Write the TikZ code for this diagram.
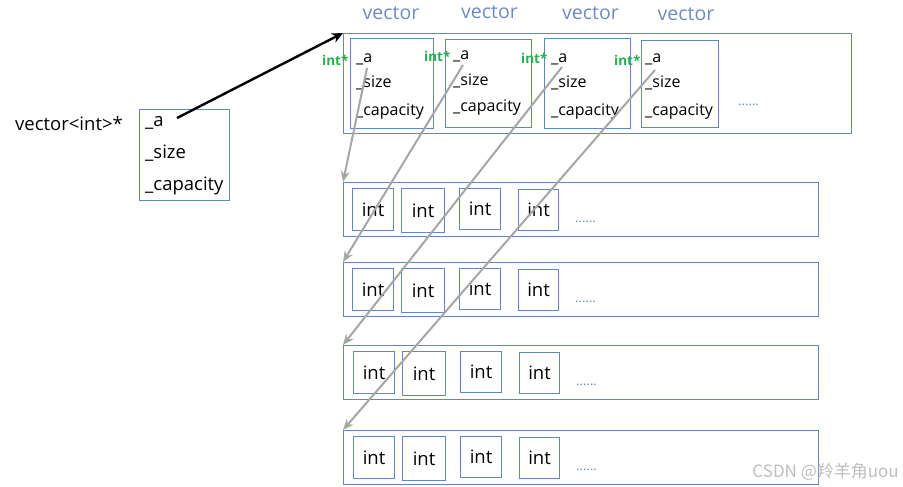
\documentclass[tikz,border=0pt]{standalone}
\usepackage{fontspec}
\setmainfont{Open Sans}
\newfontfamily\cjk{Noto Sans CJK SC}
\usetikzlibrary{arrows.meta}
\definecolor{boxblue}{RGB}{100,136,188}
\definecolor{lblblue}{RGB}{110,140,190}
\definecolor{ptrgreen}{RGB}{34,177,76}
\definecolor{arrgray}{RGB}{166,166,166}
\definecolor{wmgray}{RGB}{190,190,190}
\begin{document}
\begin{tikzpicture}[x=1pt,y=-1pt,
  bx/.style={draw=boxblue, line width=1.1pt, inner sep=0pt, anchor=north west},
  fld/.style={inner sep=0pt, anchor=base west, font=\fontsize{16}{16}\selectfont},
  lfld/.style={fld, font=\fontsize{18.5}{18}\selectfont},
  veclbl/.style={inner sep=0pt, anchor=base, text=lblblue, font=\fontsize{19.5}{20}\selectfont},
  ptr/.style={inner sep=0pt, anchor=base west, text=ptrgreen, font=\bfseries\fontsize{13.5}{14}\selectfont},
  intt/.style={font=\fontsize{18.5}{19}\selectfont},
  dots/.style={inner sep=0pt, anchor=base west, text=boxblue, font=\fontsize{13}{14}\selectfont},
  blk/.style={draw=black, line width=2.4pt, -{Stealth[length=11pt,width=10pt]}},
  gry/.style={draw=arrgray, line width=2pt, -{Stealth[length=11pt,width=9pt]}}]
\useasboundingbox (0,0) rectangle (903,487);

% outer vector block
\node[bx, minimum width=508pt, minimum height=100pt] (top) at (343,33) {};
\node[bx, minimum width=83pt, minimum height=90pt] (v1) at (350,38) {};
\node[bx, minimum width=86pt, minimum height=88pt] (v2) at (445,39) {};
\node[bx, minimum width=86pt, minimum height=90pt] (v3) at (544,38) {};
\node[bx, minimum width=77pt, minimum height=87pt] (v4) at (641,40) {};

\node[veclbl] (l1) at (391,20) {vector};
\node[veclbl] (l2) at (489.5,19) {vector};
\node[veclbl] (l3) at (590.5,20) {vector};
\node[veclbl] (l4) at (686,21) {vector};

\node[fld] (v1a) at (356,63) {\_a};
\node[fld] (v1s) at (356,88) {\_size};
\node[fld] (v1c) at (356,115) {\_capacity};
\node[fld] (v2a) at (453,60) {\_a};
\node[fld] (v2s) at (453,86) {\_size};
\node[fld] (v2c) at (453,112) {\_capacity};
\node[fld] (v3a) at (551,63) {\_a};
\node[fld] (v3s) at (551,88) {\_size};
\node[fld] (v3c) at (551,115) {\_capacity};
\node[fld] (v4a) at (645,63) {\_a};
\node[fld] (v4s) at (645,88) {\_size};
\node[fld] (v4c) at (645,115) {\_capacity};

\node[ptr] (p1) at (322,66) {int*};
\node[ptr] (p2) at (424,62) {int*};
\node[ptr] (p3) at (521,64) {int*};
\node[ptr] (p4) at (614,66) {int*};

\node[dots] (topdots) at (738,106) {......};

% left pointer object
\node[lfld] (vp) at (15,130) {vector<int>*};
\node[bx, minimum width=90pt, minimum height=91pt] (lb) at (139,109) {};
\node[lfld] (lba) at (145,126) {\_a};
\node[lfld] (lbs) at (145,158) {\_size};
\node[lfld] (lbc) at (145,190) {\_capacity};

% rows of ints
\foreach \r/\t/\d in {1/182/0,2/262/0,3/345/1,4/430/1}{
  \node[bx, minimum width=475pt, minimum height=54pt] (row\r) at (343,\t) {};
  \node[bx, intt, minimum width=41pt, minimum height=42pt] (r\r b1) at (352+\d,\t+6) {int};
  \node[bx, intt, minimum width=43pt, minimum height=44pt] (r\r b2) at (401+\d,\t+6) {int};
  \node[bx, intt, minimum width=41pt, minimum height=41pt] (r\r b3) at (459+\d,\t+6) {int};
  \node[bx, intt, minimum width=40pt, minimum height=41pt] (r\r b4) at (518+\d,\t+7) {int};
  \node[dots] (r\r dots) at (575+\d,\t+40) {......};
}

% connectors
\coordinate (s0) at (177,118);
\coordinate (s1) at (367,68);
\coordinate (s2) at (463,65);
\coordinate (s3) at (562,67);
\coordinate (s4) at (655,70);
\draw[blk] (s0) -- (top.north west);
\draw[gry] (s1) -- (row1.north west);
\draw[gry] (s2) -- (row2.north west);
\draw[gry] (s3) -- (row3.north west);
\draw[gry] (s4) -- (row4.north west);

\node[inner sep=0pt, anchor=base east, text=wmgray, font=\cjk\fontsize{17}{17}\selectfont] (wm) at (899,477) {CSDN @羚羊角uou};
\end{tikzpicture}
\end{document}
